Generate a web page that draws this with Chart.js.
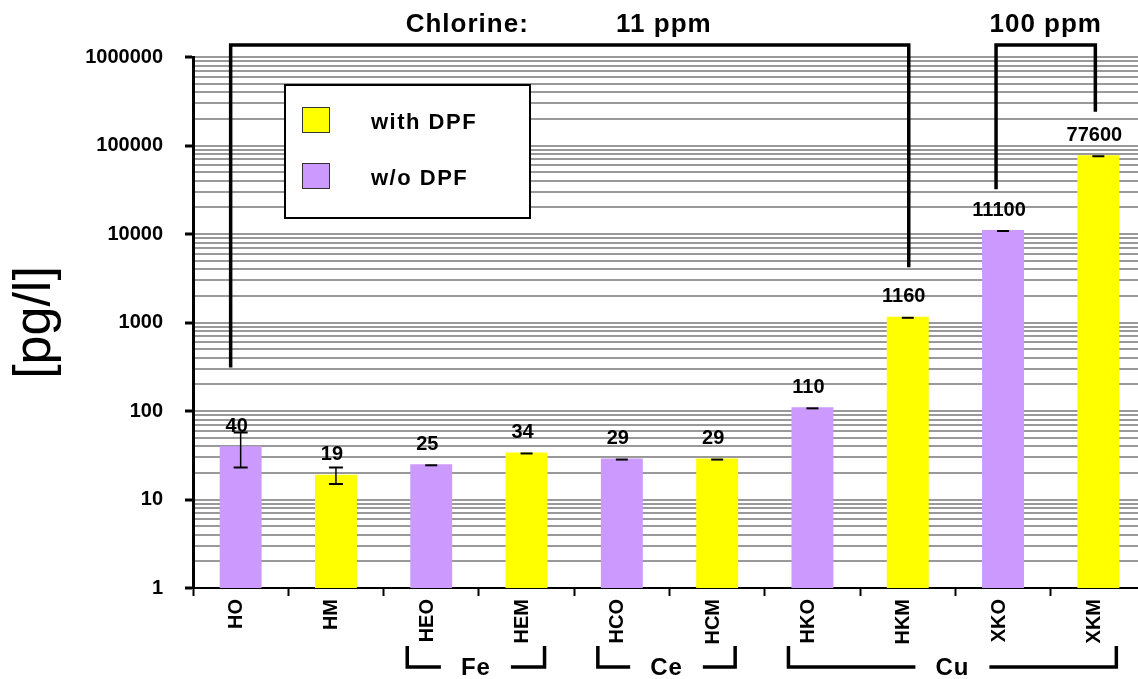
<!DOCTYPE html>
<html><head><meta charset="utf-8">
<script src="https://cdn.jsdelivr.net/npm/chart.js@4/dist/chart.umd.min.js"></script>
<style>html,body{margin:0;padding:0;overflow:hidden;background:#fff}canvas{display:block}</style>
</head><body>
<canvas id="c" width="1150" height="679"></canvas>
<script>
// ---- data ----
const categories = ['HO','HM','HEO','HEM','HCO','HCM','HKO','HKM','XKO','XKM'];
const seriesNames = ['with DPF','w/o DPF'];
const withDPF    = [null, 19, null, 34, null, 29, null, 1160, null, 77600];
const withoutDPF = [40, null, 25, null, 29, null, 110, null, 11100, null];
const errors     = [17, 4, 0, 0, 0, 0, 0, 0, 0, 0];
const yTickLabels = ['1','10','100','1000','10000','100000','1000000'];
const yAxisTitle = '[pg/l]';
const groupLabels = ['Fe','Ce','Cu'];
const groupFrom = [2, 4, 6];
const groupTo   = [3, 5, 9];
const chlorineLabels = ['Chlorine:', '11 ppm', '100 ppm'];
const bracketFrom = [0, 8];
const bracketTo   = [7, 9];
const bracketLeftEnd  = [310, 32000];
const bracketRightEnd = [4200, 240000];

const FF = '"Liberation Sans", Arial, Helvetica, sans-serif';
const isPow10 = v => { const e = Math.log10(v); return Math.abs(e - Math.round(e)) < 1e-9; };
const valueAt = i => withDPF[i] != null ? withDPF[i] : withoutDPF[i];
const barX = (chart, i) => chart.getDatasetMeta(withDPF[i] != null ? 0 : 1).data[i].x;

const legendBox = {
  id: 'legendBox',
  beforeDatasetsDraw(chart) {
    const {ctx, chartArea: a} = chart;
    const x0 = a.left + 92, y0 = a.top + 28, w = 245, h = 133;
    ctx.save();
    ctx.fillStyle = '#fff'; ctx.fillRect(x0, y0, w, h);
    ctx.strokeStyle = '#000'; ctx.lineWidth = 2; ctx.strokeRect(x0, y0, w, h);
    chart.data.datasets.forEach((ds, k) => {
      const sy = y0 + 22 + k * 56;
      ctx.fillStyle = ds.backgroundColor; ctx.fillRect(x0 + 17, sy, 28, 26);
      ctx.strokeStyle = '#333'; ctx.lineWidth = 1; ctx.strokeRect(x0 + 17.5, sy + 0.5, 27, 25);
      ctx.fillStyle = '#000'; ctx.font = 'bold 22px ' + FF;
      ctx.textAlign = 'left'; ctx.textBaseline = 'middle';
      try { ctx.letterSpacing = '1.5px'; } catch (e) {}
      ctx.fillText(ds.label, x0 + 86, sy + 16);
    });
    ctx.restore();
  }
};

const annotations = {
  id: 'annotations',
  afterDraw(chart) {
    const {ctx, chartArea: a} = chart;
    const xs = chart.scales.x, ys = chart.scales.y;
    ctx.save();
    // error bars / caps
    ctx.strokeStyle = '#000';
    categories.forEach((c, i) => {
      const v = valueAt(i), e = errors[i], x = barX(chart, i);
      if (e > 0) {
        const yl = ys.getPixelForValue(v - e), yh = ys.getPixelForValue(v + e);
        ctx.lineWidth = 1.5;
        ctx.beginPath(); ctx.moveTo(x, yl); ctx.lineTo(x, yh); ctx.stroke();
        ctx.lineWidth = 2;
        ctx.beginPath(); ctx.moveTo(x - 7, yl); ctx.lineTo(x + 7, yl);
        ctx.moveTo(x - 7, yh); ctx.lineTo(x + 7, yh); ctx.stroke();
      } else {
        const y = ys.getPixelForValue(v);
        ctx.lineWidth = 2;
        ctx.beginPath(); ctx.moveTo(x - 6, y + 1); ctx.lineTo(x + 6, y + 1); ctx.stroke();
      }
    });
    // value labels
    ctx.fillStyle = '#000'; ctx.font = 'bold 20px ' + FF;
    ctx.textAlign = 'center'; ctx.textBaseline = 'middle';
    categories.forEach((c, i) => {
      const v = valueAt(i);
      ctx.fillText(String(v), barX(chart, i) - 4, ys.getPixelForValue(v) - 20);
    });
    // chlorine brackets
    const topY = a.top - 12;
    const lOff = [-10, -7], rOff = [1, -3];
    const ends = [];
    ctx.lineWidth = 3.5; ctx.lineJoin = 'miter'; ctx.lineCap = 'butt';
    bracketFrom.forEach((f, k) => {
      const L = xs.getPixelForValue(f) + lOff[k], R = xs.getPixelForValue(bracketTo[k]) + rOff[k];
      ends.push([L, R]);
      ctx.beginPath();
      ctx.moveTo(L, ys.getPixelForValue(bracketLeftEnd[k]));
      ctx.lineTo(L, topY); ctx.lineTo(R, topY);
      ctx.lineTo(R, ys.getPixelForValue(bracketRightEnd[k]));
      ctx.stroke();
    });
    ctx.font = 'bold 26px ' + FF;
    try { ctx.letterSpacing = '1px'; } catch (e) {}
    ctx.textBaseline = 'middle';
    ctx.fillText(chlorineLabels[0], xs.getPixelForValue(2) + 36, a.top - 32);
    ctx.fillText(chlorineLabels[1], xs.getPixelForValue(4) + 42, a.top - 32);
    ctx.fillText(chlorineLabels[2], (ends[1][0] + ends[1][1]) / 2, a.top - 32);
    // group brackets under the axis
    const yb = a.bottom + 79, yt = a.bottom + 58;
    ctx.font = 'bold 24px ' + FF;
    ctx.textBaseline = 'alphabetic';
    ctx.lineWidth = 3.5;
    groupLabels.forEach((g, k) => {
      const L = xs.getPixelForValue(groupFrom[k]) - 24, R = xs.getPixelForValue(groupTo[k]) + 18;
      const mid = (L + R) / 2, tw = ctx.measureText(g).width;
      ctx.beginPath();
      ctx.moveTo(L, yt); ctx.lineTo(L, yb); ctx.lineTo(mid - tw / 2 - 20, yb);
      ctx.moveTo(mid + tw / 2 + 20, yb); ctx.lineTo(R, yb); ctx.lineTo(R, yt);
      ctx.stroke();
      ctx.fillText(g, mid, a.bottom + 87);
    });
    ctx.restore();
  }
};

new Chart(document.getElementById('c'), {
  type: 'bar',
  data: {
    labels: categories,
    datasets: [
      {label: seriesNames[0], data: withDPF, backgroundColor: '#FFFF00', grouped: false, barPercentage: 0.44, categoryPercentage: 1},
      {label: seriesNames[1], data: withoutDPF, backgroundColor: '#CC99FF', grouped: false, barPercentage: 0.44, categoryPercentage: 1}
    ]
  },
  options: {
    responsive: false,
    animation: false,
    layout: {padding: {left: 0, right: 4, top: 57, bottom: 0}},
    plugins: {legend: {display: false}, tooltip: {enabled: false}},
    scales: {
      x: {
        type: 'category',
        offset: true,
        grid: {display: true, drawOnChartArea: false, drawTicks: true, tickLength: 8, tickColor: '#000', tickWidth: 2},
        border: {display: true, color: '#000', width: 2},
        ticks: {color: '#000', font: {family: FF, size: 20, weight: 'bold'}, minRotation: 90, maxRotation: 90, padding: 3, labelOffset: -4, autoSkip: false},
        afterFit(s) { s.height = 91; }
      },
      y: {
        type: 'logarithmic',
        min: 1, max: 1e6,
        afterBuildTicks(s) {
          const t = [];
          for (let d = 0; d < 6; d++) for (let k = 1; k < 10; k++) t.push({value: k * Math.pow(10, d)});
          t.push({value: 1e6});
          s.ticks = t;
        },
        ticks: {
          autoSkip: false, color: '#000', padding: 22,
          font: {family: FF, size: 20, weight: 'bold'},
          callback: v => isPow10(v) ? yTickLabels[Math.round(Math.log10(v))] : ''
        },
        grid: {
          color: '#999999', lineWidth: 2, tickLength: 8, tickWidth: 3,
          tickColor: c => (c.tick && isPow10(c.tick.value)) ? '#000' : 'rgba(0,0,0,0)'
        },
        border: {color: '#000', width: 3},
        title: {display: true, text: yAxisTitle, color: '#000', font: {family: FF, size: 52}, padding: {top: 4, bottom: 0}},
        afterFit(s) { s.width = 193; }
      }
    }
  },
  plugins: [legendBox, annotations]
});
</script>
</body></html>
